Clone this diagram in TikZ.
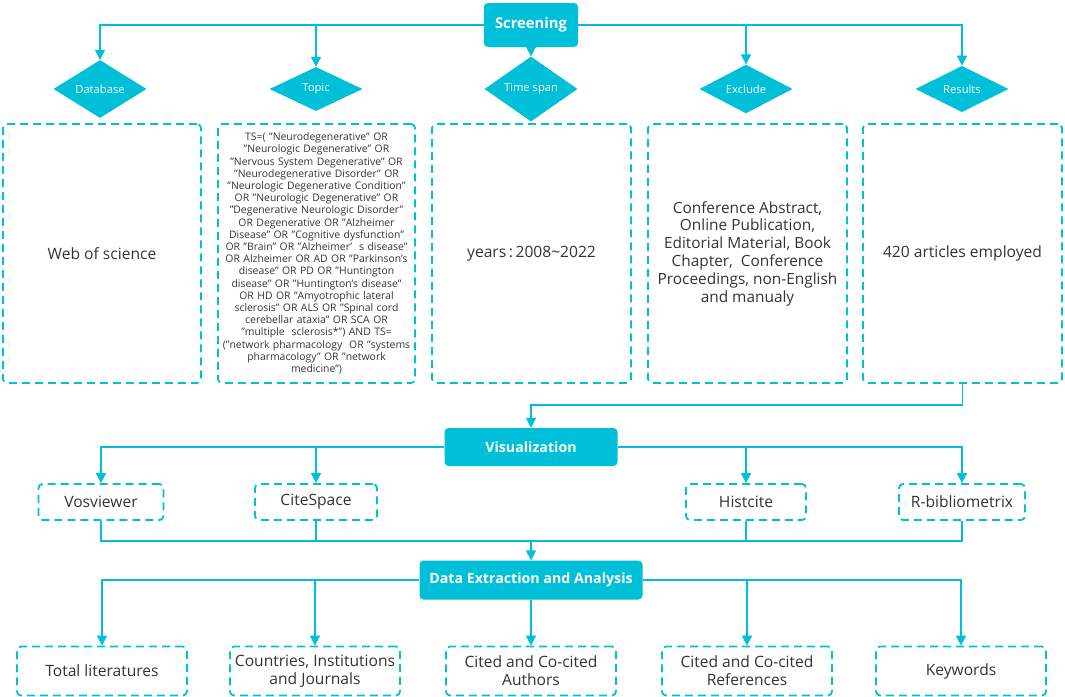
\documentclass[tikz,border=0pt]{standalone}
\usepackage{fontspec}
\setmainfont{Open Sans}
\usetikzlibrary{arrows.meta,shapes.geometric}
\definecolor{cy}{HTML}{00BFD8}
\definecolor{txt}{HTML}{333333}
\begin{document}
\begin{tikzpicture}[x=1pt,y=-1pt,
  head/.style={fill=cy, rounded corners=4pt, text=white, font=\bfseries\fontsize{14.2}{17}\selectfont, inner sep=0pt},
  dbox/.style={draw=cy, dash pattern=on 8pt off 5pt, line width=1.8pt, rounded corners=4pt, text=txt, align=center, inner sep=0pt, font=\fontsize{15.6}{18}\selectfont},
  dia/.style={diamond, fill=cy, text=white, inner sep=0pt, minimum width=93pt, minimum height=44pt, font=\fontsize{11.2}{13}\selectfont},
  conn/.style={draw=cy, line width=1.6pt},
  arr/.style={conn, -{Triangle[length=10pt,width=10pt]}}
]
\useasboundingbox (0,0) rectangle (1065,696);

% Screening
\node[head, minimum width=94pt, minimum height=44pt, font=\bfseries\fontsize{14.8}{17}\selectfont] (scr) at (531,25) {Screening};
\node[dia] (d1) at (100,89) {Database};
\node[dia] (d2) at (316,89) {Topic};
\node[dia] (d3) at (531,89) {Time span};
\node[dia] (d4) at (746,89) {Exclude};
\node[dia] (d5) at (962,89) {Results};
\draw[arr] (scr.west) -| (d1.north);
\draw[arr] (scr.west) -| (d2.north);
\draw[arr] (scr.south) -- (d3.north);
\draw[arr] (scr.east) -| (d4.north);
\draw[arr] (scr.east) -| (d5.north);

\node[dbox, minimum width=198pt, minimum height=259pt] (b1) at (102,253.5) {Web of science};
\node[dbox, minimum width=197pt, minimum height=259pt, text width=196pt, font=\fontsize{10.4}{12.2}\selectfont] (b2) at (316.5,253.5) {TS=( "Neurodegenerative" OR\\ "Neurologic Degenerative" OR\\ "Nervous System Degenerative" OR\\ "Neurodegenerative Disorder" OR\\ "Neurologic Degenerative Condition"\\ OR "Neurologic Degenerative" OR\\ "Degenerative Neurologic Disorder"\\ OR Degenerative OR "Alzheimer\\ Disease" OR "Cognitive dysfunction"\\ OR "Brain" OR "Alzheimer'\ \ s disease"\\ OR Alzheimer OR AD OR "Parkinson's\\ disease" OR PD OR "Huntington\\ disease" OR "Huntington's disease"\\ OR HD OR "Amyotrophic lateral\\ sclerosis" OR ALS OR "Spinal cord\\ cerebellar ataxia" OR SCA OR\\ "multiple\ \ sclerosis*") AND TS=\\ ("network pharmacology\ \ OR "systems\\ pharmacology" OR "network\\ medicine")};
\node[dbox, minimum width=199pt, minimum height=259pt] (b3) at (531.5,253.5) {years\,:\,2008\textasciitilde2022};
\node[dbox, minimum width=199pt, minimum height=259pt, font=\fontsize{15.4}{17.8}\selectfont] (b4) at (747.5,253.5) {Conference Abstract,\\ Online Publication,\\ Editorial Material, Book\\ Chapter,\ \ Conference\\ Proceedings, non-English\\ and manualy};
\node[dbox, minimum width=199pt, minimum height=259pt] (b5) at (962.5,253.5) {420 articles employed};

% Visualization
\node[head, minimum width=173pt, minimum height=38pt] (vis) at (531,447) {Visualization};
\coordinate (j1) at (962.5,405);
\coordinate (j2) at (531,405);
\draw[arr] (b5.south) -- (j1) -- (j2) -- (vis.north);

\node[dbox, minimum width=125pt, minimum height=36pt] (v1) at (101,502) {Vosviewer};
\node[dbox, minimum width=122pt, minimum height=36pt] (v2) at (316,502) {CiteSpace};
\node[dbox, minimum width=120pt, minimum height=36pt] (v3) at (746,502) {Histcite};
\node[dbox, minimum width=126pt, minimum height=36pt] (v4) at (962,502) {R-bibliometrix};
\draw[arr] (vis.west) -| (v1.north);
\draw[arr] (vis.west) -| (v2.north);
\draw[arr] (vis.east) -| (v3.north);
\draw[arr] (vis.east) -| (v4.north);

\coordinate (m) at (531,541);
\draw[conn] (v1.south) |- (m);
\draw[conn] (v2.south) |- (m);
\draw[conn] (v3.south) |- (m);
\draw[conn] (v4.south) |- (m);

% Data extraction
\node[head, minimum width=223pt, minimum height=39pt] (dea) at (531,580) {Data Extraction and Analysis};
\draw[arr] (m) -- (dea.north);

\node[dbox, minimum width=170pt, minimum height=49pt] (c1) at (102,671) {Total literatures};
\node[dbox, minimum width=170pt, minimum height=49pt] (c2) at (315,671) {Countries, Institutions\\ and Journals};
\node[dbox, minimum width=170pt, minimum height=49pt] (c3) at (531,671) {Cited and Co-cited\\ Authors};
\node[dbox, minimum width=170pt, minimum height=49pt] (c4) at (747,671) {Cited and Co-cited\\ References};
\node[dbox, minimum width=170pt, minimum height=49pt] (c5) at (961,671) {Keywords};
\draw[arr] (dea.west) -| (c1.north);
\draw[arr] (dea.west) -| (c2.north);
\draw[arr] (dea.south) -- (c3.north);
\draw[arr] (dea.east) -| (c4.north);
\draw[arr] (dea.east) -| (c5.north);
\end{tikzpicture}
\end{document}
